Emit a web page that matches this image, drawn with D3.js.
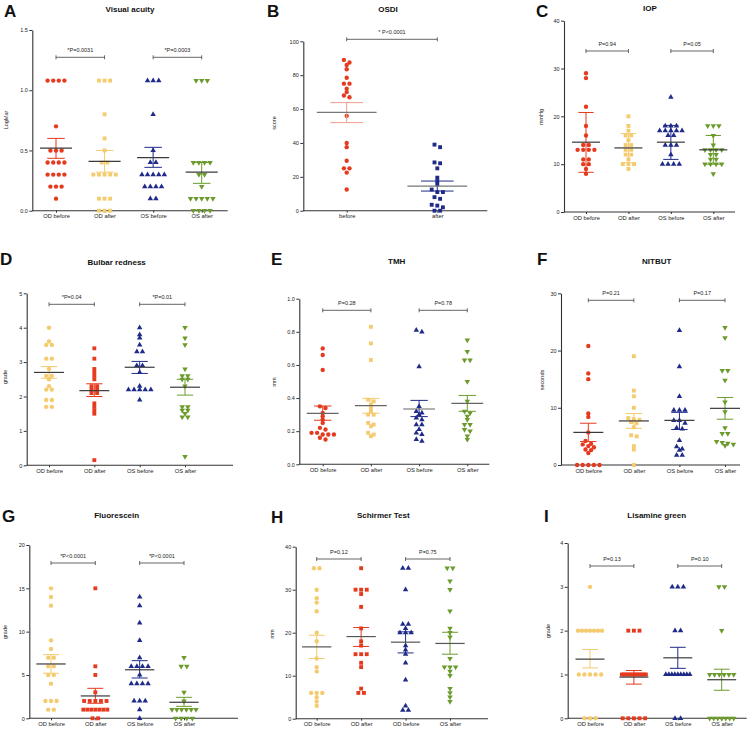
<!DOCTYPE html>
<html><head><meta charset="utf-8">
<script src="https://cdnjs.cloudflare.com/ajax/libs/d3/7.8.5/d3.min.js"></script>
<style>body{margin:0;background:#fff}svg{display:block}text{font-family:"Liberation Sans",Arial,sans-serif}</style>
</head><body><svg id="c" width="753" height="729"></svg>
<script>
// ---------- DATA ----------
const cats4 = ["OD before", "OD after", "OS before", "OS after"];
const catsOSDI = ["before", "after"];
const catsSchirmer = ["OD before", "OD after", "OD before", "OS after"];
const titles = ["Visual acuity", "OSDI", "IOP", "Bulbar redness", "TMH", "NITBUT", "Fluorescein", "Schirmer Test", "Lisamine green"];
const letters = ["A", "B", "C", "D", "E", "F", "G", "H", "I"];
const yLabels = ["LogMar", "score", "mmHg", "grade", "mm", "seconds", "grade", "mm", "grade"];

// A Visual acuity
const vaOdBefore = [1.08,1.08,1.08,1.08,0.7,0.5,0.5,0.5,0.4,0.4,0.4,0.4,0.3,0.3,0.3,0.3,0.2,0.2,0.2,0.1];
const vaOdAfter = [1.08,1.08,1.08,0.8,0.6,0.5,0.4,0.4,0.3,0.3,0.3,0.3,0.3,0.1,0.1,0.1,0,0,0];
const vaOsBefore = [1.08,1.08,1.08,0.8,0.5,0.4,0.4,0.3,0.3,0.3,0.3,0.3,0.2,0.2,0.2,0.2,0.1,0.1];
const vaOsAfter = [1.08,1.08,1.08,0.4,0.4,0.4,0.4,0.3,0.3,0.2,0.1,0.1,0.1,0.1,0.1,0,0,0,0];
const vaMeans = [0.52, 0.41, 0.44, 0.32];
const vaErrs = [[0.435,0.6],[0.32,0.5],[0.36,0.526],[0.227,0.4]];
const vaTicks = [0, 0.5, 1.0, 1.5];
const vaP = ["*P=0.0031", "*P=0.0003"];

// B OSDI
const osdiBefore = [89,87.5,86,83.5,78.5,75,75,72,70,68,67,56,40,37.5,29.5,25,25,22.5,12.5];
const osdiAfter = [39,37.5,28.5,28,25,19.5,17.5,15.5,12.5,11,11,8,7,3.5,3,2,0,0];
const osdiMeans = [58, 14.5];
const osdiErrs = [[52,63.8],[11.6,17.5]];
const osdiTicks = [0, 20, 40, 60, 80, 100];
const osdiP = ["* P<0.0001"];

// C IOP
const iopOdBefore = [29,28,22,18,16,14,14,13,13,13,13,11,11,10,10,9,8];
const iopOdAfter = [20,18,17,16,16,15,14,14,13,13,12,12,11,10,10,10,9];
const iopOsBefore = [24,18,18,18,17,17,17,17,17,16,16,14,14,14,12,10,10,10,10];
const iopOsAfter = [18,18,18,16,14,13,13,13,13,12,12,11,11,10,10,10,10,8];
const iopMeans = [14.6, 13.4, 14.6, 13];
const iopErrs = [[8.3,20.8],[10.3,16.4],[11,18.1],[10,16]];
const iopTicks = [0, 10, 20, 30, 40];
const iopP = ["P=0.94", "P=0.05"];

// D Bulbar redness
const brOdBefore = [4.0,3.6,3.5,3.5,3.1,3.1,2.8,2.6,2.6,2.5,2.3,2.2,2.2,1.9,1.9,1.7,1.7];
const brOdAfter = [3.4,3.1,2.8,2.7,2.6,2.5,2.3,2.3,2.2,2.2,2.1,2.1,1.8,1.7,1.6,1.5,0.15];
const brOsBefore = [4.0,3.8,3.7,3.5,3.3,3.3,2.9,2.9,2.7,2.3,2.2,2.2,2.2,2.2,2.2,1.9];
const brOsAfter = [4.0,3.7,3.5,2.8,2.6,2.6,2.5,2.5,2.3,1.7,1.7,1.6,1.6,1.5,1.4,1.4,0.25];
const brMeans = [2.70, 2.17, 2.85, 2.27];
const brErrs = [[2.53,2.87],[2.0,2.37],[2.67,3.02],[2.04,2.5]];
const brTicks = [0, 1, 2, 3, 4, 5];
const brP = ["*P=0.04", "*P=0.01"];

// E TMH
const tmhOdBefore = [0.70,0.66,0.57,0.35,0.34,0.31,0.29,0.27,0.25,0.22,0.21,0.19,0.19,0.18,0.18,0.18,0.16,0.15];
const tmhOdAfter = [0.83,0.73,0.63,0.39,0.38,0.36,0.34,0.32,0.30,0.30,0.25,0.24,0.23,0.19,0.18,0.17];
const tmhOsBefore = [0.81,0.80,0.59,0.35,0.32,0.31,0.30,0.28,0.27,0.24,0.24,0.21,0.19,0.18,0.15,0.14];
const tmhOsAfter = [0.75,0.68,0.63,0.63,0.50,0.38,0.32,0.31,0.29,0.27,0.24,0.24,0.21,0.20,0.17,0.15];
const tmhMeans = [0.308, 0.354, 0.334, 0.368];
const tmhErrs = [[0.266,0.352],[0.308,0.398],[0.288,0.386],[0.32,0.416]];
const tmhTicks = [0, 0.2, 0.4, 0.6, 0.8, 1.0];
const tmhP = ["P=0.28", "P=0.78"];

// F NITBUT
const nbOdBefore = [20.8,16,15,9,8.4,5.7,4.2,3.7,3.6,3.3,3.1,2.7,2.6,2.1,0,0,0,0,0];
const nbOdAfter = [19,13,12,10,8.2,8,7.9,7.5,7.3,6.6,5.2,5.0,3.3,2.7,0];
const nbOsBefore = [23.5,17.2,12,9.6,9.6,9.6,7.8,7.8,7.3,6.5,6.3,4.3,3.2,2.8,2.6,1.7,1.7];
const nbOsAfter = [24,22.2,16.5,16.5,14.8,11,9.3,6.5,5.5,5.5,4.1,3.9,3.8,3.6,3.4];
const nbMeans = [5.7, 7.7, 7.8, 9.9];
const nbErrs = [[4.1,7.3],[6.4,9.0],[6.2,9.2],[8.0,11.8]];
const nbTicks = [0, 10, 20, 30];
const nbP = ["P=0.21", "P=0.17"];

// G Fluorescein
const flOdBefore = [15,14,13,9,8,7,7,6,6,5,5,4,2,2,2,1,1];
const flOdAfter = [15,6,5,3,2,2,2,2,2,1,1,1,1,1,1,1,0,0];
const flOsBefore = [14,13,11,9,7,6,6,6,6,5,4,4,4,4,2,2,2,1,0];
const flOsAfter = [7,6,6,3,2,1,1,1,1,1,1,0,0,0,0];
const flMeans = [6.27, 2.58, 5.6, 1.85];
const flErrs = [[5.2,7.35],[1.73,3.46],[4.65,6.65],[1.38,2.42]];
const flTicks = [0, 5, 10, 15, 20];
const flP = ["*P<0.0001", "*P<0.0001"];

// H Schirmer Test
const stOdBefore = [35,35,30,28,27,25,20,18,14,12,11,6,6,6,5,4,3];
const stOdAfter = [35,30,30,30,29,26,21,18,17,15,15,15,13,12,7,6,6];
const stOsBefore = [35,35,30,22,22,21,20,20,20,17,16,15,13,9,3,2,2];
const stOsAfter = [35,35,32,30,25,21,20,19,14,12,12,12,11,10,7,6,5,4];
const stMeans = [16.7, 19.1, 17.8, 17.5];
const stErrs = [[14.0,19.4],[16.8,21.2],[15.3,20.2],[15.0,20.1]];
const stTicks = [0, 10, 20, 30, 40];
const stP = ["P=0.12", "P=0.75"];

// I Lisamine green
const lgOdBefore = [3,2,2,2,2,2,2,2,1,1,1,1,1,0,0,0];
const lgOdAfter = [2,2,2,1,1,1,1,1,1,1,1,1,1,1,1,0,0,0,0,0];
const lgOsBefore = [3,3,3,2,2,1,1,1,1,1,1,1,1,1,0,0];
const lgOsAfter = [3,3,2,1,1,1,1,1,1,0,0,0,0,0,0,0];
const lgMeans = [1.35, 0.94, 1.38, 0.88];
const lgErrs = [[1.15,1.57],[0.78,1.09],[1.14,1.62],[0.64,1.12]];
const lgTicks = [0, 1, 2, 3, 4];
const lgP = ["P=0.13", "P=0.10"];

// ---------- STYLE ----------
const RED = "#E63A1F", YEL = "#F4CB6E", NAVY = "#1F2B88", GRN = "#6C9B2D";
const C = d3.symbolCircle, S = d3.symbolSquare, T = d3.symbolTriangle, TD = "down";

const panels = [
  {values:[vaOdBefore,vaOdAfter,vaOsBefore,vaOsAfter], means:vaMeans, errs:vaErrs, ticks:vaTicks, fmt:".1f", cats:cats4, p:vaP,
   shapes:[C,S,T,TD], colors:[RED,YEL,NAVY,GRN],
   g:{x0:32.3,xEnd:227.7,yTop:30,yBot:210.7,c0:56,c1:201.7,brY:57.3,lx:4,ly:17,tx:130,ty:11.5,yx:7,yy:120}},
  {values:[osdiBefore,osdiAfter], means:osdiMeans, errs:osdiErrs, ticks:osdiTicks, fmt:"d", cats:catsOSDI, p:osdiP,
   shapes:[C,S], colors:[RED,NAVY], errColors:["#EE9C8F",NAVY], meanColor:"#777",
   g:{x0:303.3,xEnd:487.3,yTop:41.3,yBot:210.7,c0:346.7,c1:437.3,brY:39.3,lx:267,ly:17,tx:388,ty:11.5,yx:275,yy:123}},
  {values:[iopOdBefore,iopOdAfter,iopOsBefore,iopOsAfter], means:iopMeans, errs:iopErrs, ticks:iopTicks, fmt:"d", cats:cats4, p:iopP,
   shapes:[C,S,T,TD], colors:[RED,YEL,NAVY,GRN],
   g:{x0:564,xEnd:735,yTop:20.7,yBot:212,c0:586,c1:713.3,brY:51,lx:536,ly:16.5,tx:650,ty:11,yx:542,yy:117}},
  {values:[brOdBefore,brOdAfter,brOsBefore,brOsAfter], means:brMeans, errs:brErrs, ticks:brTicks, fmt:"d", cats:cats4, p:brP,
   shapes:[C,S,T,TD], colors:[YEL,RED,NAVY,GRN],
   g:{x0:26.7,xEnd:233,yTop:293.3,yBot:465.3,c0:49,c1:185,brY:304.3,lx:0,ly:265,tx:116.7,ty:265,yx:6,yy:377}},
  {values:[tmhOdBefore,tmhOdAfter,tmhOsBefore,tmhOsAfter], means:tmhMeans, errs:tmhErrs, ticks:tmhTicks, fmt:".1f", cats:cats4, p:tmhP,
   shapes:[C,S,T,TD], colors:[RED,YEL,NAVY,GRN], meanColor:"#666",
   g:{x0:299.3,xEnd:489.3,yTop:298.7,yBot:464.3,c0:322.7,c1:467.3,brY:310.3,lx:271,ly:265,tx:396.7,ty:264,yx:275,yy:382}},
  {values:[nbOdBefore,nbOdAfter,nbOsBefore,nbOsAfter], means:nbMeans, errs:nbErrs, ticks:nbTicks, fmt:"d", cats:cats4, p:nbP,
   shapes:[C,S,T,TD], colors:[RED,YEL,NAVY,GRN],
   g:{x0:561,xEnd:740,yTop:293.3,yBot:465,c0:588.3,c1:725,brY:300.3,lx:537,ly:265,tx:656.7,ty:264,yx:543,yy:380}},
  {values:[flOdBefore,flOdAfter,flOsBefore,flOsAfter], means:flMeans, errs:flErrs, ticks:flTicks, fmt:"d", cats:cats4, p:flP,
   shapes:[C,S,T,TD], colors:[YEL,RED,NAVY,GRN],
   g:{x0:29.3,xEnd:238,yTop:545,yBot:718.3,c0:51,c1:184,brY:563,lx:2,ly:522,tx:116.7,ty:517.5,yx:6,yy:632}},
  {values:[stOdBefore,stOdAfter,stOsBefore,stOsAfter], means:stMeans, errs:stErrs, ticks:stTicks, fmt:"d", cats:catsSchirmer, p:stP,
   shapes:[C,S,T,TD], colors:[YEL,RED,NAVY,GRN], meanColor:"#555",
   g:{x0:295.7,xEnd:488,yTop:546.7,yBot:718.7,c0:316.7,c1:450,brY:559,lx:271,ly:523,tx:383.3,ty:518,yx:273,yy:634}},
  {values:[lgOdBefore,lgOdAfter,lgOsBefore,lgOsAfter], means:lgMeans, errs:lgErrs, ticks:lgTicks, fmt:"d", cats:cats4, p:lgP,
   shapes:[C,S,T,TD], colors:[YEL,RED,NAVY,GRN],
   g:{x0:567.7,xEnd:746.7,yTop:543,yBot:718.3,c0:590,c1:721.7,brY:566,lx:544,ly:522,tx:656.7,ty:518,yx:549,yy:631}}
];

const svg = d3.select("#c");
const AX = "#333";

function rowLayout(vals, y, cx, d, maxW) {
  const pts = vals.map(v => ({v, y: y(v)})).sort((a, b) => a.y - b.y);
  const groups = [];
  pts.forEach(p => {
    const g = groups[groups.length - 1];
    if (g && p.y - g[0].y < 3.2) g.push(p); else groups.push([p]);
  });
  groups.forEach(g => {
    const n = g.length;
    const sp = n > 1 ? Math.min(d, maxW / (n - 1)) : 0;
    g.forEach((p, i) => { p.x = cx + (i - (n - 1) / 2) * sp; });
  });
  return pts;
}

panels.forEach((P, pi) => {
  const G = P.g;
  const root = svg.append("g");
  const dom = [0, P.ticks[P.ticks.length - 1]];
  const y = d3.scaleLinear().domain(dom).range([G.yBot, G.yTop]);
  const x = d3.scalePoint().domain(d3.range(P.cats.length)).range([G.c0, G.c1]);
  const step = P.cats.length > 1 ? (G.c1 - G.c0) / (P.cats.length - 1) : 50;

  // letter + title
  root.append("text").attr("x", G.lx).attr("y", G.ly).text(letters[pi])
    .attr("font-size", 17).attr("font-weight", "bold").attr("fill", "#111");
  root.append("text").attr("x", G.tx).attr("y", G.ty).text(titles[pi])
    .attr("text-anchor", "middle").attr("font-size", 8).attr("font-weight", "bold").attr("fill", "#111");
  // y label
  root.append("text").attr("transform", `translate(${G.yx},${G.yy}) rotate(-90)`).text(yLabels[pi])
    .attr("text-anchor", "middle").attr("dominant-baseline", "middle").attr("font-size", 5.5).attr("fill", "#222");

  // y axis
  const ya = root.append("g").attr("transform", `translate(${G.x0},0)`)
    .call(d3.axisLeft(y).tickValues(P.ticks).tickSize(3).tickSizeOuter(0).tickPadding(1.5)
      .tickFormat(P.fmt === "d" ? d3.format("d") : d3.format(".1f")));
  ya.select(".domain").attr("stroke", AX).attr("stroke-width", 1.1);
  ya.selectAll(".tick line").attr("stroke", AX);
  ya.selectAll(".tick text").attr("font-size", 5.5).attr("fill", "#222").attr("font-family", '"Liberation Sans",Arial,sans-serif');

  // x axis
  root.append("line").attr("x1", G.x0).attr("x2", G.xEnd).attr("y1", G.yBot).attr("y2", G.yBot)
    .attr("stroke", AX).attr("stroke-width", 1.1);
  const xa = root.append("g").attr("transform", `translate(0,${G.yBot})`)
    .call(d3.axisBottom(x).tickSize(2).tickPadding(1.5).tickFormat(i => P.cats[i]));
  xa.select(".domain").remove();
  xa.selectAll(".tick line").attr("stroke", AX);
  xa.selectAll(".tick text").attr("font-size", 5.8).attr("fill", "#222").attr("font-family", '"Liberation Sans",Arial,sans-serif');

  // points
  P.values.forEach((vals, si) => {
    const cx = x(si);
    const pts = rowLayout(vals, y, cx, 5.6, 24);
    const shp = P.shapes[si];
    const sym = d3.symbol().type(shp === TD ? d3.symbolTriangle : shp)
      .size(shp === C ? 15 : shp === S ? 15 : 13);
    root.append("g").selectAll("path").data(pts).join("path")
      .attr("d", sym)
      .attr("transform", p => `translate(${p.x},${p.y})${shp === TD ? " rotate(180)" : ""}`)
      .attr("fill", P.colors[si]);
  });

  // mean + error bars
  P.values.forEach((vals, si) => {
    const cx = x(si);
    const ec = (P.errColors || P.colors)[si];
    const mw = step * 0.66, cw = step * 0.36;
    const [lo, hi] = P.errs[si];
    root.append("line").attr("x1", cx).attr("x2", cx).attr("y1", y(lo)).attr("y2", y(hi))
      .attr("stroke", ec).attr("stroke-width", 1);
    [lo, hi].forEach(v => root.append("line").attr("x1", cx - cw / 2).attr("x2", cx + cw / 2)
      .attr("y1", y(v)).attr("y2", y(v)).attr("stroke", ec).attr("stroke-width", 1));
    root.append("line").attr("x1", cx - mw / 2).attr("x2", cx + mw / 2)
      .attr("y1", y(P.means[si])).attr("y2", y(P.means[si]))
      .attr("stroke", P.meanColor || "#3a3a3a").attr("stroke-width", 1.2);
  });

  // significance brackets
  P.p.forEach((lab, k) => {
    const xa1 = x(2 * k), xa2 = x(2 * k + 1);
    const bg = root.append("g").attr("stroke", "#555").attr("stroke-width", 0.9);
    bg.append("line").attr("x1", xa1).attr("x2", xa2).attr("y1", G.brY).attr("y2", G.brY);
    bg.append("line").attr("x1", xa1).attr("x2", xa1).attr("y1", G.brY - 2).attr("y2", G.brY + 2);
    bg.append("line").attr("x1", xa2).attr("x2", xa2).attr("y1", G.brY - 2).attr("y2", G.brY + 2);
    root.append("text").attr("x", (xa1 + xa2) / 2).attr("y", G.brY - 5).text(lab)
      .attr("text-anchor", "middle").attr("font-size", 5.5).attr("fill", "#222");
  });
});
</script></body></html>
